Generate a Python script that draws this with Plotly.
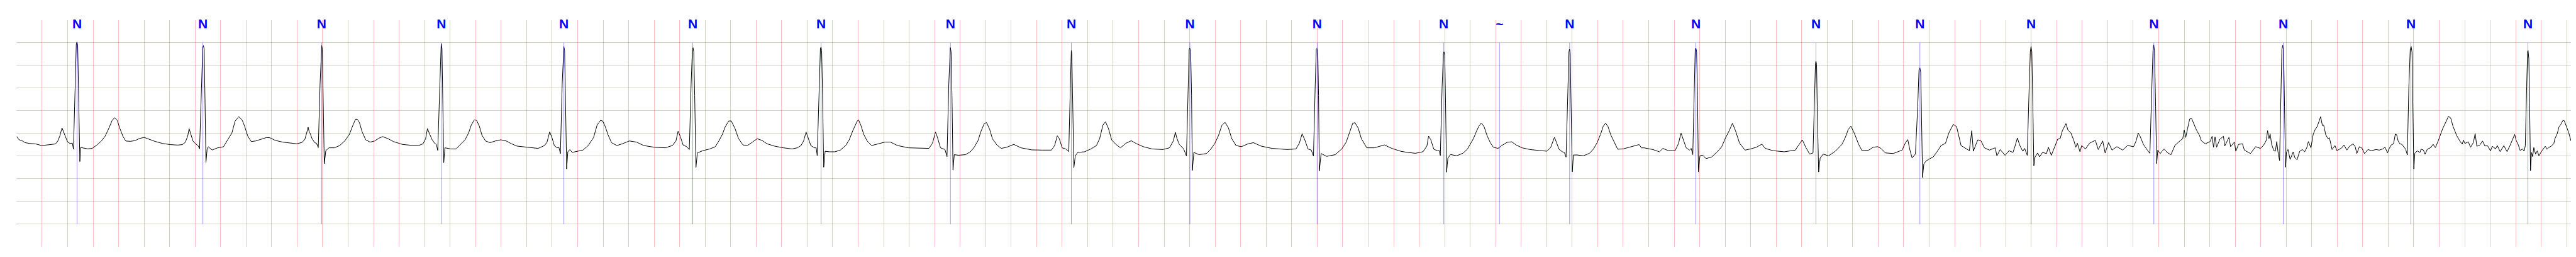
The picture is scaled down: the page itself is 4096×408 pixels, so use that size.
import plotly.graph_objects as go

# ECG trace vertices read from the strip: (time in s, amplitude in mV)
ecg_00_02s = [
    (0.002, -0.069), (0.018, -0.138), (0.042, -0.160), (0.066, -0.203), (0.102, -0.221),
    (0.150, -0.232), (0.198, -0.268), (0.258, -0.246), (0.305, -0.232), (0.323, -0.167),
    (0.339, -0.058), (0.356, 0.123), (0.371, 0.022), (0.383, -0.058), (0.399, -0.185),
    (0.419, -0.221), (0.437, -0.214), (0.446, -0.348), (0.459, 1.03), (0.468, 1.97),
    (0.473, 2.014), (0.479, 1.953), (0.4875, 0.667), (0.496, -0.62), (0.502, -0.31),
    (0.521, -0.32), (0.557, -0.34), (0.593, -0.33), (0.629, -0.257), (0.665, -0.167),
    (0.695, -0.058), (0.725, 0.123), (0.749, 0.286), (0.769, 0.348), (0.790, 0.286),
    (0.808, 0.123), (0.833, -0.058), (0.856, -0.167), (0.892, -0.174), (0.928, -0.159),
    (0.964, -0.112), (1.000, -0.087), (1.036, -0.123), (1.084, -0.174), (1.144, -0.221),
    (1.204, -0.246), (1.264, -0.257), (1.300, -0.246), (1.323, -0.196), (1.342, -0.058),
    (1.353, 0.105), (1.365, -0.004), (1.383, -0.167), (1.407, -0.239), (1.425, -0.275),
    (1.435, -0.34), (1.449, 1.03), (1.460, 1.90), (1.465, 1.935), (1.471, 1.86),
    (1.478, 0.667), (1.485, -0.638), (1.494, -0.348), (1.503, -0.293), (1.533, -0.366),
    (1.575, -0.319), (1.623, -0.293), (1.659, -0.13), (1.689, 0.014), (1.713, 0.268),
    (1.743, 0.37),
]
ecg_02_04s = [
    (1.770, 0.287), (1.788, 0.161), (1.812, -0.053), (1.840, -0.179), (1.875, -0.166),
    (1.917, -0.128), (1.959, -0.091), (1.987, -0.096), (2.029, -0.154), (2.086, -0.191),
    (2.156, -0.211), (2.198, -0.229), (2.240, -0.196), (2.261, -0.128), (2.275, 0.01),
    (2.286, 0.136), (2.296, 0.023), (2.303, -0.003), (2.317, -0.116), (2.338, -0.204),
    (2.352, -0.217), (2.366, -0.312), (2.380, 1.093), (2.389, 1.873), (2.393, 1.936),
    (2.398, 1.848), (2.405, 0.841), (2.413, -0.67), (2.425, -0.38), (2.450, -0.317),
    (2.492, -0.317), (2.534, -0.267), (2.577, -0.154), (2.611, -0.015), (2.633, 0.149),
    (2.658, 0.312), (2.672, 0.312), (2.689, 0.237), (2.710, 0.035), (2.738, -0.141),
    (2.773, -0.191), (2.808, -0.166), (2.843, -0.103), (2.871, -0.07), (2.913, -0.116),
    (2.955, -0.179), (3.026, -0.242), (3.096, -0.262), (3.152, -0.267), (3.187, -0.229),
    (3.208, -0.116), (3.222, 0.106), (3.236, 0.01), (3.257, -0.128), (3.278, -0.217),
    (3.292, -0.242), (3.303, -0.375), (3.318, 1.093), (3.326, 1.949), (3.330, 1.979),
    (3.336, 1.873), (3.343, 0.841), (3.350, -0.645), (3.359, -0.317), (3.405, -0.342),
    (3.447, -0.342), (3.482, -0.242), (3.517, -0.141), (3.545, 0.01), (3.566, 0.186),
    (3.590, 0.30), (3.608, 0.287), (3.629, 0.161), (3.650, -0.04), (3.678, -0.166),
    (3.713, -0.204), (3.755, -0.166), (3.797, -0.141), (3.840, -0.166), (3.882, -0.229),
    (3.924, -0.279),
]
ecg_04_06s = [
    (3.964, -0.292), (4.020, -0.317), (4.090, -0.33), (4.140, -0.267), (4.160, -0.191),
    (4.181, 0.035), (4.200, -0.103), (4.217, -0.267), (4.238, -0.317), (4.253, -0.305),
    (4.265, -0.443), (4.279, 1.093), (4.288, 1.873), (4.292, 1.916), (4.298, 1.823),
    (4.305, 0.841), (4.314, -0.783), (4.323, -0.405), (4.339, -0.355), (4.357, -0.418),
    (4.399, -0.393), (4.441, -0.368), (4.483, -0.267), (4.525, -0.091), (4.553, 0.186),
    (4.579, 0.287), (4.596, 0.274), (4.617, 0.149), (4.638, -0.028), (4.666, -0.204),
    (4.708, -0.267), (4.750, -0.229), (4.806, -0.166), (4.862, -0.191), (4.918, -0.267),
    (5.002, -0.305), (5.087, -0.317), (5.143, -0.267), (5.171, -0.166), (5.188, 0.048),
    (5.205, -0.065), (5.227, -0.254), (5.255, -0.292), (5.276, -0.355), (5.290, 1.093),
    (5.300, 1.848), (5.305, 1.891), (5.311, 1.798), (5.318, 0.841), (5.328, -0.75),
    (5.339, -0.43), (5.382, -0.38), (5.437, -0.342), (5.480, -0.292), (5.508, -0.166),
    (5.536, -0.015), (5.556, 0.136), (5.585, 0.274), (5.605, 0.274), (5.634, 0.111),
    (5.662, -0.116), (5.697, -0.254), (5.732, -0.267), (5.774, -0.191), (5.809, -0.116),
    (5.845, -0.154), (5.886, -0.229), (5.943, -0.279), (6.013, -0.317),
]
ecg_06_08s = [
    (6.081, -0.342), (6.123, -0.317), (6.152, -0.267), (6.172, -0.166), (6.192, 0.03),
    (6.210, -0.103), (6.229, -0.267), (6.257, -0.317), (6.271, -0.317), (6.279, -0.488),
    (6.296, 1.093), (6.304, 1.873), (6.309, 1.906), (6.314, 1.823), (6.321, 0.841),
    (6.330, -0.745), (6.341, -0.393), (6.376, -0.405), (6.418, -0.405), (6.460, -0.368),
    (6.502, -0.267), (6.530, -0.141), (6.558, 0.06), (6.579, 0.186), (6.593, 0.274),
    (6.603, 0.30), (6.622, 0.174), (6.643, -0.015), (6.671, -0.166), (6.706, -0.267),
    (6.755, -0.229), (6.811, -0.191), (6.853, -0.191), (6.909, -0.267), (6.994, -0.317),
    (7.092, -0.33), (7.155, -0.33), (7.183, -0.217), (7.197, -0.091), (7.207, 0.03),
    (7.221, -0.078), (7.246, -0.317), (7.281, -0.355), (7.297, -0.511), (7.311, 1.093),
    (7.319, 1.86), (7.323, 1.891), (7.329, 1.798), (7.336, 0.841), (7.344, -0.808),
    (7.354, -0.468), (7.386, -0.481), (7.443, -0.468), (7.485, -0.393), (7.513, -0.292),
    (7.541, -0.154), (7.562, 0.035), (7.590, 0.224), (7.608, 0.237), (7.632, 0.086),
    (7.653, -0.116), (7.688, -0.254), (7.723, -0.33), (7.765, -0.305), (7.821, -0.242),
    (7.877, -0.317), (7.962, -0.363),
]
ecg_08_11s = [
    (8.046, -0.368), (8.116, -0.368), (8.141, -0.267), (8.162, -0.053), (8.178, -0.116),
    (8.200, -0.317), (8.228, -0.342), (8.252, -0.40), (8.264, 1.0), (8.269, 1.75),
    (8.272, 1.828), (8.276, 1.75), (8.283, 0.80), (8.292, -0.758), (8.303, -0.493),
    (8.323, -0.418), (8.375, -0.405), (8.426, -0.342), (8.469, -0.267), (8.494, -0.116),
    (8.520, 0.186), (8.540, 0.257), (8.563, 0.111), (8.588, -0.141), (8.622, -0.242),
    (8.657, -0.317), (8.700, -0.217), (8.742, -0.161), (8.785, -0.229), (8.836, -0.292),
    (8.905, -0.342), (8.990, -0.355), (9.042, -0.317), (9.072, -0.166), (9.088, 0.023),
    (9.101, -0.116), (9.119, -0.242), (9.153, -0.342), (9.175, -0.498), (9.187, 1.093),
    (9.196, 1.848), (9.201, 1.881), (9.208, 1.798), (9.215, 0.841), (9.221, -0.816),
    (9.233, -0.418), (9.273, -0.468), (9.333, -0.443), (9.367, -0.342), (9.398, -0.217),
    (9.427, -0.04), (9.452, 0.174), (9.478, 0.244), (9.504, 0.123), (9.530, -0.116),
    (9.564, -0.267), (9.606, -0.292), (9.658, -0.229), (9.700, -0.204), (9.760, -0.279),
    (9.846, -0.33), (9.966, -0.355), (10.034, -0.342), (10.060, -0.217), (10.082, -0.01),
    (10.103, -0.141), (10.128, -0.342), (10.154, -0.368), (10.171, -0.501), (10.185, 1.093),
    (10.193, 1.848), (10.198, 1.873), (10.205, 1.798), (10.211, 0.841), (10.217, -0.826),
    (10.231, -0.443), (10.274, -0.506), (10.342, -0.468), (10.393, -0.342), (10.428, -0.191),
    (10.453, 0.01), (10.479, 0.224), (10.496, 0.237), (10.521, 0.123), (10.547, -0.116),
    (10.589, -0.317), (10.649, -0.317), (10.727, -0.254), (10.786, -0.33), (10.855, -0.393),
]
ecg_11_13s = [
    (10.911, -0.42), (10.971, -0.438), (11.031, -0.402), (11.061, -0.275), (11.074, -0.058),
    (11.091, -0.138), (11.115, -0.348), (11.145, -0.384), (11.157, -0.377), (11.166, -0.486),
    (11.180, 1.029), (11.190, 1.754), (11.195, 1.801), (11.201, 1.717), (11.207, 0.667),
    (11.215, -0.855), (11.225, -0.547), (11.246, -0.464), (11.294, -0.493), (11.342, -0.438),
    (11.378, -0.348), (11.402, -0.239), (11.426, -0.112), (11.450, 0.051), (11.468, 0.159),
    (11.488, 0.232), (11.510, 0.141), (11.534, -0.058), (11.558, -0.203), (11.582, -0.304),
    (11.618, -0.33), (11.654, -0.257), (11.690, -0.196), (11.726, -0.185), (11.762, -0.257),
    (11.809, -0.319), (11.869, -0.355), (11.941, -0.377), (12.001, -0.391), (12.031, -0.312),
    (12.049, -0.167), (12.061, -0.087), (12.075, -0.185), (12.097, -0.348), (12.121, -0.402),
    (12.139, -0.42), (12.152, -0.522), (12.166, 1.029), (12.175, 1.808), (12.180, 1.855),
    (12.185, 1.754), (12.191, 0.667), (12.201, -0.848), (12.210, -0.475), (12.240, -0.475),
    (12.288, -0.493), (12.336, -0.438), (12.366, -0.348), (12.396, -0.203), (12.422, -0.022),
    (12.444, 0.159), (12.462, 0.225), (12.480, 0.159), (12.504, -0.04), (12.533, -0.221),
    (12.557, -0.348), (12.600, -0.341), (12.648, -0.304), (12.696, -0.275), (12.725, -0.246),
    (12.744, -0.319),
]
ecg_13_15s = [
    (12.762, -0.317), (12.832, -0.355), (12.884, -0.405), (12.911, -0.33), (12.954, -0.38),
    (13.007, -0.38), (13.033, -0.229), (13.054, 0.005), (13.073, -0.141), (13.094, -0.317),
    (13.120, -0.368), (13.134, -0.33), (13.146, -0.468), (13.158, 1.093), (13.165, 1.848),
    (13.170, 1.886), (13.176, 1.798), (13.183, 0.841), (13.190, -0.851), (13.202, -0.493),
    (13.224, -0.481), (13.250, -0.556), (13.294, -0.519), (13.338, -0.405), (13.373, -0.292),
    (13.404, -0.091), (13.434, 0.073), (13.457, 0.224), (13.481, 0.06), (13.513, -0.217),
    (13.556, -0.368), (13.600, -0.342), (13.644, -0.305), (13.688, -0.237), (13.714, -0.33),
    (13.775, -0.38), (13.863, -0.405), (13.950, -0.368), (13.976, -0.267), (14.005, -0.141),
    (14.034, -0.317), (14.063, -0.456), (14.089, -0.43), (14.101, 1.093), (14.108, 1.546),
    (14.112, 1.596), (14.117, 1.521), (14.122, 0.589), (14.133, -0.851), (14.145, -0.544),
    (14.168, -0.456), (14.211, -0.493), (14.264, -0.393), (14.316, -0.242), (14.342, -0.091),
    (14.365, 0.086), (14.386, 0.161), (14.412, 0.01), (14.447, -0.242), (14.473, -0.38),
    (14.526, -0.368), (14.561, -0.305), (14.596, -0.292), (14.622, -0.33), (14.657, -0.43),
    (14.718, -0.443), (14.788, -0.368), (14.814, -0.204), (14.832, -0.136), (14.849, -0.368),
    (14.866, -0.539), (14.892, -0.456), (14.910, 0.589), (14.920, 1.395), (14.927, 1.445),
    (14.934, 1.344), (14.941, 0.337), (14.948, -0.972), (14.958, -0.67), (14.976, -0.607),
    (15.005, -0.556), (15.032, -0.519), (15.058, -0.418), (15.093, -0.267), (15.128, -0.217),
    (15.154, 0.01), (15.189, 0.199), (15.215, 0.149), (15.250, -0.267), (15.285, -0.33),
    (15.315, -0.38), (15.334, 0.06), (15.346, -0.393), (15.381, -0.141), (15.407, -0.166),
    (15.433, -0.317),
]
ecg_15_18s = [
    (15.472, -0.368), (15.518, -0.317), (15.531, -0.495), (15.557, -0.355), (15.595, -0.482),
    (15.626, -0.381), (15.657, -0.419), (15.672, -0.292), (15.692, -0.102), (15.711, -0.266),
    (15.734, -0.393), (15.749, -0.33), (15.769, -0.482), (15.783, 0.90), (15.793, 1.80),
    (15.799, 1.92), (15.805, 1.80), (15.813, 0.60), (15.821, -0.711), (15.830, -0.52),
    (15.850, -0.431), (15.866, -0.515), (15.889, -0.419), (15.920, -0.444), (15.935, -0.305),
    (15.958, -0.482), (15.981, -0.305), (16.008, -0.127), (16.027, -0.114), (16.045, 0.063),
    (16.073, 0.216), (16.088, 0.076), (16.111, 0.013), (16.134, -0.152), (16.150, -0.305),
    (16.162, -0.216), (16.183, -0.406), (16.196, -0.266), (16.226, -0.343), (16.257, -0.216),
    (16.303, -0.152), (16.326, -0.355), (16.361, -0.165), (16.380, -0.431), (16.407, -0.203),
    (16.434, -0.368), (16.472, -0.292), (16.518, -0.368), (16.556, -0.266), (16.603, -0.292),
    (16.623, -0.165), (16.639, 0.008), (16.654, -0.063), (16.680, -0.241), (16.711, -0.368),
    (16.731, -0.439), (16.745, 0.90), (16.755, 1.82), (16.761, 1.95), (16.767, 1.82),
    (16.776, 0.60), (16.784, -0.665), (16.793, -0.368), (16.812, -0.444), (16.842, -0.343),
    (16.866, -0.419), (16.896, -0.47), (16.927, -0.266), (16.966, -0.165), (16.989, -0.114),
    (17.000, 0.076), (17.012, -0.089), (17.027, 0.114), (17.043, 0.317), (17.058, 0.33),
    (17.073, 0.228), (17.096, 0.076), (17.119, -0.038), (17.135, -0.165), (17.166, -0.228),
    (17.204, -0.178), (17.219, -0.063), (17.230, -0.305), (17.242, -0.076), (17.254, -0.305),
    (17.280, -0.127), (17.308, -0.063), (17.318, -0.279), (17.351, -0.089), (17.364, -0.292),
    (17.394, -0.19), (17.405, -0.393), (17.426, -0.241), (17.457, -0.228), (17.472, -0.368),
    (17.520, -0.444), (17.560, -0.292), (17.598, -0.33), (17.621, -0.266),
]
ecg_18_19s = [
    (17.637, -0.191), (17.645, -0.141), (17.654, 0.06), (17.665, -0.116), (17.674, -0.01),
    (17.686, -0.242), (17.703, -0.38), (17.715, -0.393), (17.726, -0.179), (17.735, -0.393),
    (17.748, -0.599), (17.758, 0.841), (17.766, 1.848), (17.773, 1.944), (17.780, 1.798),
    (17.787, 0.589), (17.795, -0.745), (17.802, -0.418), (17.814, -0.355), (17.831, -0.574),
    (17.855, -0.405), (17.867, -0.531), (17.885, -0.582), (17.906, -0.393), (17.927, -0.355),
    (17.945, -0.405), (17.961, -0.317), (17.974, -0.179), (17.994, -0.317), (18.012, -0.015),
    (18.028, 0.091), (18.043, 0.149), (18.057, 0.249), (18.070, 0.368), (18.084, 0.174),
    (18.094, 0.181), (18.110, -0.028), (18.128, -0.116), (18.139, -0.096), (18.160, -0.355),
    (18.182, -0.267), (18.198, -0.38), (18.236, -0.317), (18.253, -0.254), (18.276, -0.368),
    (18.298, -0.279), (18.325, -0.229), (18.341, -0.292), (18.354, -0.443), (18.374, -0.292),
    (18.396, -0.33), (18.414, -0.443), (18.441, -0.355), (18.468, -0.38), (18.504, -0.355),
    (18.530, -0.368), (18.557, -0.342), (18.575, -0.305), (18.595, -0.43), (18.606, -0.342),
    (18.624, -0.254), (18.642, -0.229), (18.656, -0.015), (18.666, -0.028), (18.678, -0.166),
    (18.692, -0.229),
]
ecg_19_20s = [
    (18.706, -0.239), (18.724, -0.312), (18.737, -0.348), (18.750, -0.475), (18.762, 1.029),
    (18.773, 1.862), (18.780, 1.917), (18.787, 1.79), (18.793, 0.667), (18.801, -0.783),
    (18.809, -0.438), (18.827, -0.384), (18.849, -0.42), (18.858, -0.348), (18.876, -0.366),
    (18.889, -0.457), (18.907, -0.348), (18.934, -0.312), (18.952, -0.239), (18.970, -0.312),
    (18.992, -0.167), (19.010, -0.022), (19.027, 0.105), (19.054, 0.261), (19.072, 0.377),
    (19.090, 0.341), (19.108, 0.159), (19.126, 0.033), (19.136, -0.04), (19.162, -0.167),
    (19.180, -0.239), (19.190, -0.149), (19.202, -0.221), (19.228, -0.185), (19.246, -0.304),
    (19.268, -0.203), (19.282, -0.004), (19.295, -0.283), (19.318, -0.257), (19.340, -0.167),
    (19.358, -0.275), (19.380, -0.275), (19.402, -0.384), (19.417, -0.283), (19.442, -0.341),
    (19.456, -0.268), (19.478, -0.402), (19.507, -0.268), (19.532, -0.402), (19.554, -0.275),
    (19.577, -0.13), (19.592, -0.022), (19.603, -0.149), (19.621, -0.257), (19.635, -0.377),
    (19.653, -0.341), (19.666, -0.391), (19.675, -0.275), (19.686, 1.029), (19.693, 1.808),
    (19.697, 1.826), (19.703, 1.645), (19.709, 0.667), (19.716, -0.819), (19.724, -0.42),
    (19.733, -0.511), (19.742, -0.312), (19.756, -0.457), (19.769, -0.384), (19.782, -0.493),
    (19.805, -0.384), (19.832, -0.283), (19.845, -0.348), (19.859, -0.312), (19.881, -0.275),
    (19.899, -0.221), (19.908, -0.112), (19.926, -0.004), (19.939, 0.141), (19.953, 0.196),
    (19.970, 0.286), (19.980, 0.283), (20.002, 0.123), (20.016, 0.014), (20.033, -0.159),
    (20.047, -0.239), (20.056, -0.167), (20.063, -0.185),
]

# Beat annotations
ann_time = [0.474, 1.461, 2.392, 3.331, 4.292, 5.303, 6.309, 7.324, 8.272, 9.202, 10.200,
            11.193, 11.630, 12.180, 13.170, 14.112, 14.927, 15.799, 16.762, 17.777, 18.778,
            19.696]
ann_symbol = ["N", "N", "N", "N", "N", "N", "N", "N", "N", "N", "N",
              "N", "~", "N", "N", "N", "N", "N", "N", "N", "N",
              "N"]

# Axis grid (ECG paper): 0.2 s and 0.5 mV divisions
x_range = [-0.002, 20.063]
y_range = [-2.502, 2.497]
y_grid = [-2.5, -2.0, -1.5, -1.0, -0.5, 0.0, 0.5, 1.0, 1.5, 2.0]
marker_span = [-2.0, 2.0]
label_level = 2.393

segments = [ecg_00_02s, ecg_02_04s, ecg_04_06s, ecg_06_08s, ecg_08_11s, ecg_11_13s,
            ecg_13_15s, ecg_15_18s, ecg_18_19s, ecg_19_20s]
ecg_t, ecg_mv = [], []
for seg in segments:
    for t, v in seg:
        ecg_t.append(t)
        ecg_mv.append(v)

mk_x, mk_y = [], []
for t in ann_time:
    mk_x += [t, t, None]
    mk_y += [marker_span[0], marker_span[1], None]

grid_color = "rgba(255,0,0,0.26)"

fig = go.Figure()
fig.add_trace(go.Scatter(x=ecg_t, y=ecg_mv, mode="lines",
                         line=dict(color="black", width=1.0), hoverinfo="skip"))
fig.add_trace(go.Scatter(x=mk_x, y=mk_y, mode="lines",
                         line=dict(color="rgba(0,0,255,0.5)", width=0.8), hoverinfo="skip"))
fig.add_trace(go.Scatter(x=ann_time, y=[label_level] * len(ann_time), mode="text",
                         text=ann_symbol, textposition="middle center",
                         textfont=dict(family="Liberation Sans Narrow, Arial Narrow, Liberation Sans, Arial",
                                       size=21, color="#0000ff", weight="bold"),
                         cliponaxis=False, hoverinfo="skip"))

fig.update_layout(
    width=4096, height=408,
    margin=dict(l=18, r=10, t=24, b=24),
    paper_bgcolor="white", plot_bgcolor="white",
    showlegend=False,
    xaxis=dict(range=x_range, tick0=0, dtick=0.2, showgrid=True, gridcolor=grid_color,
               gridwidth=1, zeroline=False, showticklabels=False, ticks="", showline=False),
    yaxis=dict(range=y_range, tickmode="array", tickvals=y_grid, showgrid=True,
               gridcolor=grid_color, gridwidth=1, zeroline=False, showticklabels=False,
               ticks="", showline=False),
)

fig.write_html("out.html", config={"displayModeBar": False})
